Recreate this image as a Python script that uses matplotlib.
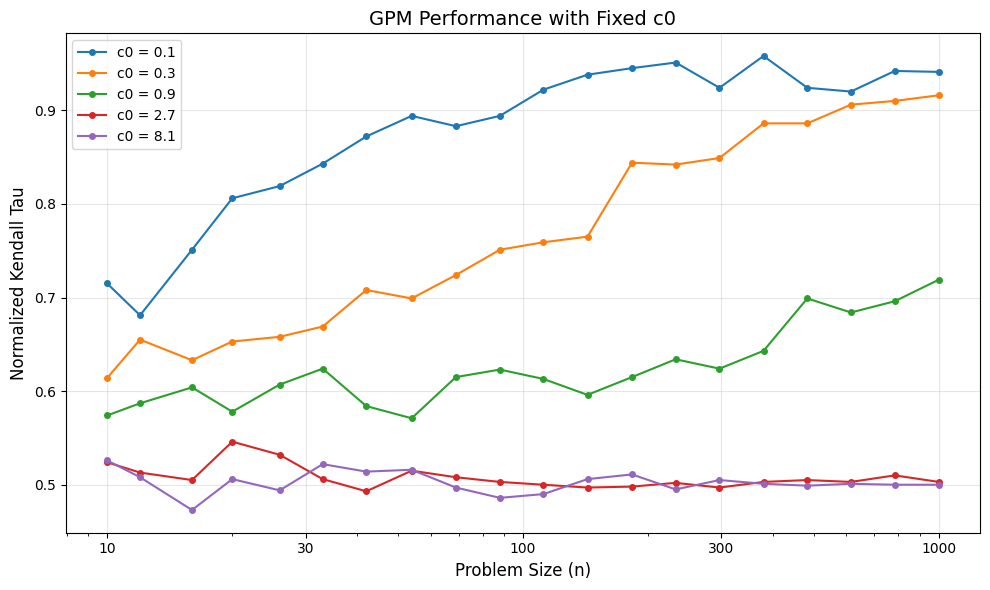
import matplotlib

matplotlib.use("Agg")
import matplotlib.pyplot as plt

# problem sizes (log-spaced)
sizes = [10, 12, 16, 20, 26, 33, 42, 54, 69, 88, 112, 143, 183, 233, 297, 379, 483, 615, 784, 1000]

c0_labels = ["c0 = 0.1", "c0 = 0.3", "c0 = 0.9", "c0 = 2.7", "c0 = 8.1"]

tau_01 = [0.715, 0.681, 0.751, 0.806, 0.819, 0.843, 0.872, 0.894, 0.883, 0.894,
          0.922, 0.938, 0.945, 0.951, 0.924, 0.958, 0.924, 0.920, 0.942, 0.941]
tau_03 = [0.614, 0.655, 0.633, 0.653, 0.658, 0.669, 0.708, 0.699, 0.724, 0.751,
          0.759, 0.765, 0.844, 0.842, 0.849, 0.886, 0.886, 0.906, 0.910, 0.916]
tau_09 = [0.574, 0.587, 0.604, 0.578, 0.607, 0.624, 0.584, 0.571, 0.615, 0.623,
          0.613, 0.596, 0.615, 0.634, 0.624, 0.643, 0.699, 0.684, 0.696, 0.719]
tau_27 = [0.524, 0.513, 0.505, 0.546, 0.532, 0.506, 0.493, 0.515, 0.508, 0.503,
          0.500, 0.497, 0.498, 0.502, 0.497, 0.503, 0.505, 0.503, 0.510, 0.503]
tau_81 = [0.526, 0.508, 0.473, 0.506, 0.494, 0.522, 0.514, 0.516, 0.497, 0.486,
          0.490, 0.506, 0.511, 0.495, 0.505, 0.501, 0.499, 0.501, 0.500, 0.500]

series = [tau_01, tau_03, tau_09, tau_27, tau_81]

fig, ax = plt.subplots(figsize=(9.9, 5.9), dpi=100)

for label, values in zip(c0_labels, series):
    ax.plot(sizes, values, marker="o", markersize=4, linewidth=1.5, label=label)

ax.set_xscale("log")
ax.set_xticks([10, 30, 100, 300, 1000])
ax.set_xticklabels(["10", "30", "100", "300", "1000"])
ax.set_xlabel("Problem Size (n)", fontsize=12)
ax.set_ylabel("Normalized Kendall Tau", fontsize=12)
ax.set_title("GPM Performance with Fixed c0", fontsize=14)
ax.grid(True, alpha=0.3)
ax.legend(loc="upper left")

fig.subplots_adjust(left=0.0662, right=0.9902, top=0.9436, bottom=0.0971)
plt.savefig("out.png")
plt.close()
